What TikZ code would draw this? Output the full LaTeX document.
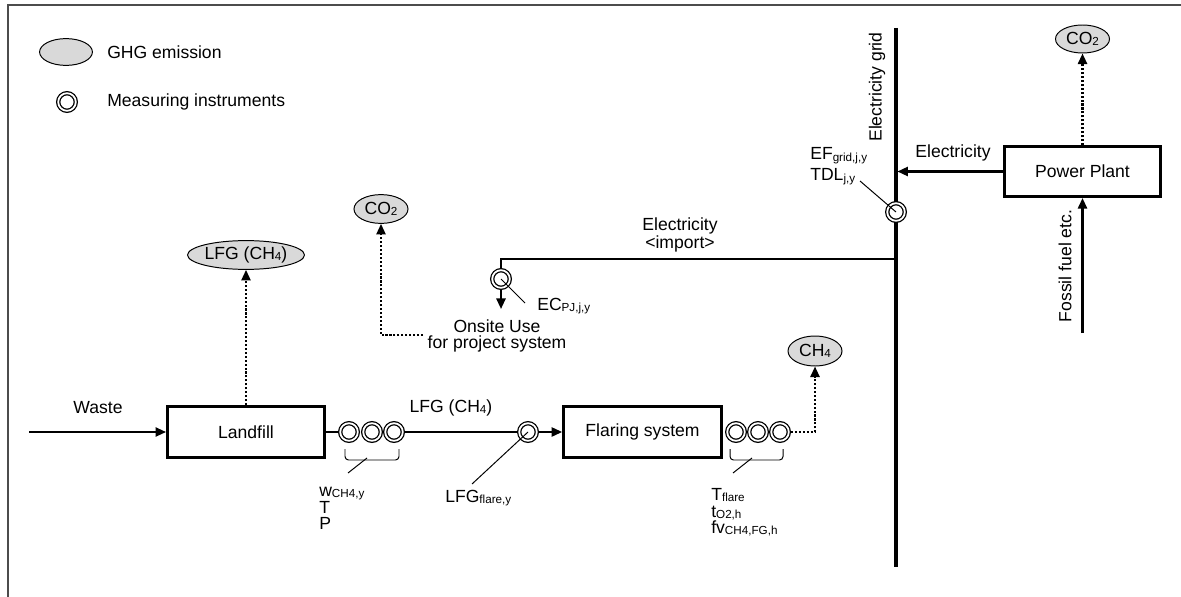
\documentclass[tikz,border=0pt]{standalone}
\usepackage{fontspec}
\setmainfont{Liberation Sans}
\usetikzlibrary{arrows.meta,shapes.geometric}

\newcommand{\lsub}[1]{\raisebox{-0.15ex}{\fontsize{8.3}{9}\selectfont #1}}

\tikzset{
  txt/.style={inner sep=0pt, font=\fontsize{12.5}{11.4}\selectfont},
  unit/.style={draw, line width=1.9pt, inner sep=0pt, font=\fontsize{12.5}{15}\selectfont},
  ghg/.style={ellipse, draw, line width=0.7pt, fill=black!15, inner sep=0pt, font=\fontsize{12.5}{15}\selectfont},
  meter/.style={circle, draw, fill=white, double, line width=0.9pt, double distance=1.3pt,
    minimum size=12.5pt, inner sep=0pt, outer sep=1.6pt},
  pipe/.style={line width=1.5pt},
  flow/.style={pipe, -{Triangle[length=7.5pt,width=6.5pt]}},
  emit/.style={line width=1.5pt, dash pattern=on 1.5pt off 1.3pt, -{Triangle[length=7.5pt,width=6.5pt]}},
  lead/.style={line width=0.7pt},
  brace/.style={line width=0.7pt, rounded corners=2.5pt},
  frame/.style={line width=1pt, black!70}
}

\begin{document}
\begin{tikzpicture}[x=0.025cm,y=-0.025cm]
  \useasboundingbox (0,0) rectangle (1181,597);
  % Frame
  \draw[frame] (8,597) -- (8,5) -- (1181,5);
  % Legend
  \node[ghg,minimum width=1.32cm,minimum height=0.67cm] (keyghg) at (66,52) {};
  \node[txt,anchor=west] (keyghgtext) at (107,52) {GHG emission};
  \node[meter] (keymeter) at (67,102) {};
  \node[txt,anchor=west] (keymetertext) at (107,102) {Measuring instruments};

  % Electricity grid
  \coordinate (gridtop) at (896,28);
  \coordinate (gridbot) at (896,567);
  \draw[line width=2.2pt] (gridtop) -- (gridbot);
  \node[txt,rotate=90] (gridtext) at (877,87) {Electricity grid};
  \node[meter] (gridm) at (896,212) {};
  \node[txt,anchor=base west] (eflbl) at (810,160) {EF\lsub{grid,j,y}};
  \node[txt,anchor=base west] (tdllbl) at (810,181) {TDL\lsub{j,y}};
  \coordinate (tdlend) at (860,181);
  \draw[lead] (tdlend) -- (gridm.center);

  % Power plant
  \node[unit,minimum width=3.9cm,minimum height=1.26cm] (pp) at (1082.5,171.5) {Power Plant};
  \node[ghg,minimum width=1.35cm,minimum height=0.7cm] (co2pp) at (1082.5,39) {CO\lsub{2}};
  \draw[emit] (pp) -- (co2pp);
  \draw[flow,shorten >=1pt] (pp) -- (pp.west -| gridtop);
  \node[txt] (elecpp) at (953,153) {Electricity};
  \coordinate (fossil) at (1082.5,333);
  \draw[flow] (fossil) -- (pp.south);
  \node[txt,rotate=90] (fosstext) at (1065,266) {Fossil fuel etc.};

  % Import to onsite use
  \coordinate (impgrid) at (896,259);
  \coordinate (impcorner) at (501,259);
  \node[meter] (ecm) at (501,279) {};
  \draw[pipe] (impgrid) -- (impcorner) -- (ecm);
  \coordinate (ectip) at (501,309);
  \draw[flow] (ecm) -- (ectip);
  \node[txt,align=center,font=\fontsize{12.5}{10.2}\selectfont] (imptext) at (680,235) {Electricity\\<import>};
  \node[txt,align=center,font=\fontsize{12.5}{11.6}\selectfont] (onsite) at (497,336) {Onsite Use\\for project system};
  \node[txt,anchor=base west] (eclbl) at (537,310) {EC\lsub{PJ,j,y}};
  \coordinate (ecend) at (525,303);
  \draw[lead] (ecm.center) -- (ecend);
  \node[ghg,minimum width=1.35cm,minimum height=0.72cm] (co2os) at (381,209) {CO\lsub{2}};
  \coordinate (osdot) at (423,335);
  \draw[emit] (osdot) -| (co2os);

  % Landfill
  \coordinate (wastein) at (29,432);
  \node[unit,minimum width=3.93cm,minimum height=1.28cm] (landfill) at (246,432) {Landfill};
  \draw[flow] (wastein) -- (landfill);
  \node[txt] (wastetext) at (98,408) {Waste};
  \node[ghg,minimum width=2.9cm,minimum height=0.72cm] (lfgem) at (246,255) {LFG (CH\lsub{4})};
  \draw[emit] (landfill) -- (lfgem);
  \foreach \i/\x in {1/349,2/372,3/394}
    \node[meter] (lm\i) at (\x,432) {};
  \draw[pipe] (landfill) -- (lm1);
  \node[meter] (fm) at (528,432) {};
  \draw[pipe] (lm3) -- (fm);
  \node[txt] (lfgtext) at (451,408) {LFG (CH\lsub{4})};

  % Flaring
  \node[unit,minimum width=3.95cm,minimum height=1.28cm] (flare) at (642.5,432) {Flaring system};
  \draw[flow] (fm) -- (flare);
  \foreach \i/\x in {1/736,2/758,3/780}
    \node[meter] (xm\i) at (\x,432) {};
  \node[ghg,minimum width=1.35cm,minimum height=0.75cm] (ch4em) at (815,351) {CH\lsub{4}};
  \draw[emit] (xm3) -| (ch4em);

  % Parameters
  \draw[brace] (345,449) -- (345,460) -- (399,460) -- (399,449);
  \coordinate (lbrmid) at (367,458);
  \coordinate (lbrend) at (348,473);
  \draw[lead] (lbrmid) -- (lbrend);
  \node[txt,anchor=base west] (wlbl) at (319,496) {w\lsub{CH4,y}};
  \node[txt,anchor=base west] (tlbl) at (319,513) {T};
  \node[txt,anchor=base west] (plbl) at (319,529) {P};
  \node[txt,anchor=base west] (lfgflbl) at (445,502) {LFG\lsub{flare,y}};
  \coordinate (lfgfend) at (472,484);
  \draw[lead] (lfgfend) -- (fm.center);
  \draw[brace] (730,449) -- (730,460) -- (783,460) -- (783,449);
  \coordinate (xbrmid) at (752,458);
  \coordinate (xbrend) at (733,473);
  \draw[lead] (xbrmid) -- (xbrend);
  \node[txt,anchor=base west] (tflbl) at (711,500) {T\lsub{flare}};
  \node[txt,anchor=base west] (to2lbl) at (711,517) {t\lsub{O2,h}};
  \node[txt,anchor=base west] (fvlbl) at (711,533) {fv\lsub{CH4,FG,h}};
\end{tikzpicture}
\end{document}
